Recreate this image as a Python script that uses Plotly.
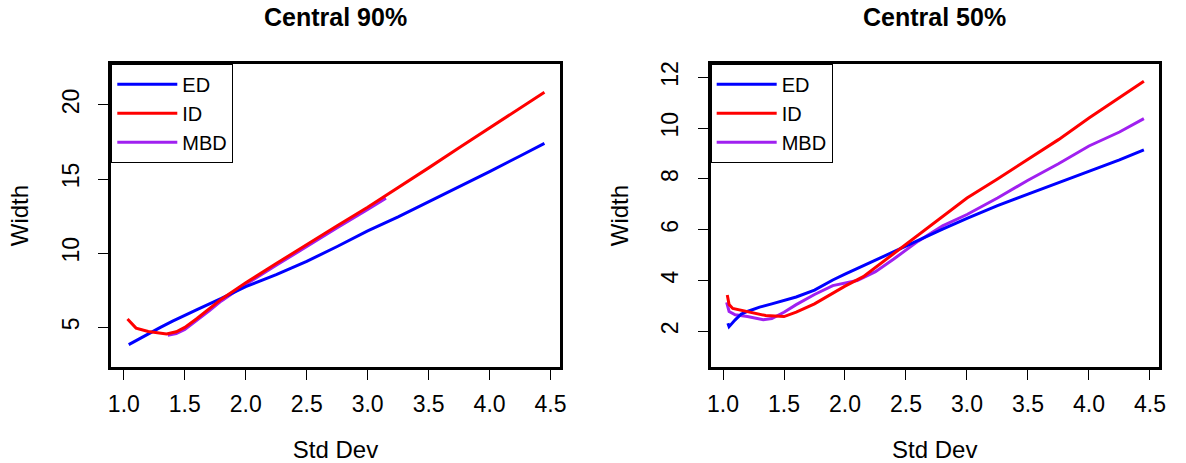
import plotly.graph_objects as go

# ---- Central 90% interval widths ----
x90_ed = [1.04, 1.1, 1.2, 1.3, 1.4, 1.5, 1.6, 1.8, 2.0, 2.25, 2.5, 2.75, 3.0, 3.25, 3.5, 3.75, 4.0, 4.25, 4.45]
w90_ed = [3.84, 4.12, 4.58, 5.0, 5.42, 5.82, 6.2, 6.95, 7.75, 8.55, 9.45, 10.45, 11.5, 12.45, 13.45, 14.45, 15.5, 16.55, 17.4]

x90_id = [1.03, 1.1, 1.2, 1.3, 1.35, 1.43, 1.5, 1.6, 1.7, 1.8, 1.9, 2.0, 2.25, 2.5, 2.75, 3.0, 3.25, 3.5, 3.75, 4.0, 4.25, 4.45]
w90_id = [5.56, 4.95, 4.72, 4.6, 4.55, 4.7, 5.0, 5.6, 6.25, 6.9, 7.45, 8.0, 9.3, 10.6, 11.85, 13.1, 14.4, 15.75, 17.1, 18.45, 19.75, 20.85]

x90_mbd = [1.36, 1.43, 1.5, 1.6, 1.7, 1.8, 1.9, 2.0, 2.25, 2.5, 2.75, 3.0, 3.15]
w90_mbd = [4.46, 4.58, 4.86, 5.46, 6.12, 6.78, 7.34, 7.9, 9.18, 10.47, 11.72, 12.95, 13.7]

# ---- Central 50% interval widths ----
x50_ed = [1.04, 1.05, 1.1, 1.15, 1.2, 1.3, 1.4, 1.5, 1.6, 1.75, 1.9, 2.0, 2.2, 2.4, 2.6, 2.8, 3.0, 3.25, 3.5, 3.75, 4.0, 4.25, 4.45]
w50_ed = [2.32, 2.18, 2.45, 2.68, 2.78, 2.95, 3.08, 3.2, 3.35, 3.62, 4.02, 4.25, 4.7, 5.15, 5.6, 6.02, 6.45, 6.95, 7.4, 7.85, 8.3, 8.75, 9.15]

x50_id = [1.035, 1.05, 1.08, 1.15, 1.25, 1.35, 1.5, 1.6, 1.75, 1.9, 2.0, 2.15, 2.3, 2.5, 2.75, 3.0, 3.25, 3.5, 3.75, 4.0, 4.25, 4.45]
w50_id = [3.43, 3.05, 2.9, 2.82, 2.72, 2.62, 2.58, 2.75, 3.08, 3.5, 3.78, 4.15, 4.7, 5.45, 6.35, 7.25, 8.0, 8.78, 9.55, 10.4, 11.2, 11.85]

x50_mbd = [1.03, 1.05, 1.1, 1.2, 1.33, 1.4, 1.5, 1.6, 1.75, 1.9, 2.1, 2.25, 2.4, 2.6, 2.8, 3.0, 3.25, 3.5, 3.75, 4.0, 4.25, 4.45]
w50_mbd = [3.14, 2.78, 2.65, 2.58, 2.45, 2.5, 2.75, 3.05, 3.45, 3.8, 4.0, 4.35, 4.85, 5.55, 6.15, 6.6, 7.25, 7.95, 8.6, 9.3, 9.85, 10.38]

panel_titles = ["Central 90%", "Central 50%"]
x_ticks = [1.0, 1.5, 2.0, 2.5, 3.0, 3.5, 4.0, 4.5]
y_ticks_90 = [5, 10, 15, 20]
y_ticks_50 = [2, 4, 6, 8, 10, 12]

COLORS = {"ED": "#0000FF", "ID": "#FF0000", "MBD": "#A020F0"}
RANK = {"ED": 1, "ID": 2, "MBD": 3}
FONT = "Liberation Sans, Arial, sans-serif"
W, H = 1186, 463

fig = go.Figure()

panels = [
    ("x", "y", "legend", [("MBD", x90_mbd, w90_mbd), ("ED", x90_ed, w90_ed), ("ID", x90_id, w90_id)]),
    ("x2", "y2", "legend2", [("MBD", x50_mbd, w50_mbd), ("ED", x50_ed, w50_ed), ("ID", x50_id, w50_id)]),
]
for xa, ya, leg, series in panels:
    for name, xs, ys in series:
        fig.add_trace(go.Scatter(
            x=xs, y=ys, mode="lines", name=name,
            line=dict(color=COLORS[name], width=3),
            xaxis=xa, yaxis=ya, legend=leg, legendrank=RANK[name],
        ))

# plot-area edges in pixels
left_dom = (108.3 / W, 561.0 / W)
right_dom = (713.3 / W, 1165.7 / W)
y_dom = (1 - 367.0 / H, 1 - 62.0 / H)

axis_common = dict(
    showline=True, linecolor="black", linewidth=3, mirror=True,
    ticks="outside", ticklen=10, tickwidth=1, tickcolor="black",
    showgrid=False, zeroline=False,
    tickfont=dict(family=FONT, size=23, color="black"),
    title_font=dict(family=FONT, size=24, color="black"),
)

x_common = dict(tickvals=x_ticks, ticktext=[f"{v:.1f}" for v in x_ticks],
                ticklabelstandoff=4,
                title=dict(text="Std Dev", standoff=26), **axis_common)
y_common = dict(tickangle=-90, ticklabelstandoff=10,
                title=dict(text="Width", standoff=23), **axis_common)

legend_common = dict(
    xanchor="left", yanchor="top", y=y_dom[1],
    bgcolor="white", bordercolor="black", borderwidth=1,
    font=dict(family=FONT, size=20, color="black"), itemwidth=60,
    traceorder="normal",
)

fig.update_layout(
    width=W, height=H,
    margin=dict(l=0, r=0, t=0, b=0),
    paper_bgcolor="white", plot_bgcolor="white",
    font=dict(family=FONT, size=20, color="black"),
    xaxis=dict(domain=left_dom, range=[0.897, 4.576], anchor="y", **x_common),
    yaxis=dict(domain=y_dom, range=[2.30, 22.77], tickvals=y_ticks_90, anchor="x", **y_common),
    xaxis2=dict(domain=right_dom, range=[0.899, 4.573], anchor="y2", **x_common),
    yaxis2=dict(domain=y_dom, range=[0.576, 12.54], tickvals=y_ticks_50, anchor="x2", **y_common),
    legend=dict(x=left_dom[0], **legend_common),
    legend2=dict(x=right_dom[0], **legend_common),
    showlegend=True,
)

for i, title in enumerate(panel_titles):
    dom = left_dom if i == 0 else right_dom
    fig.add_annotation(
        text=f"<b>{title}</b>", x=(dom[0] + dom[1]) / 2, y=1 - 15 / H,
        xref="paper", yref="paper", xanchor="center", yanchor="middle",
        showarrow=False, font=dict(family=FONT, size=25, color="black"),
    )

fig.write_html("out.html")
